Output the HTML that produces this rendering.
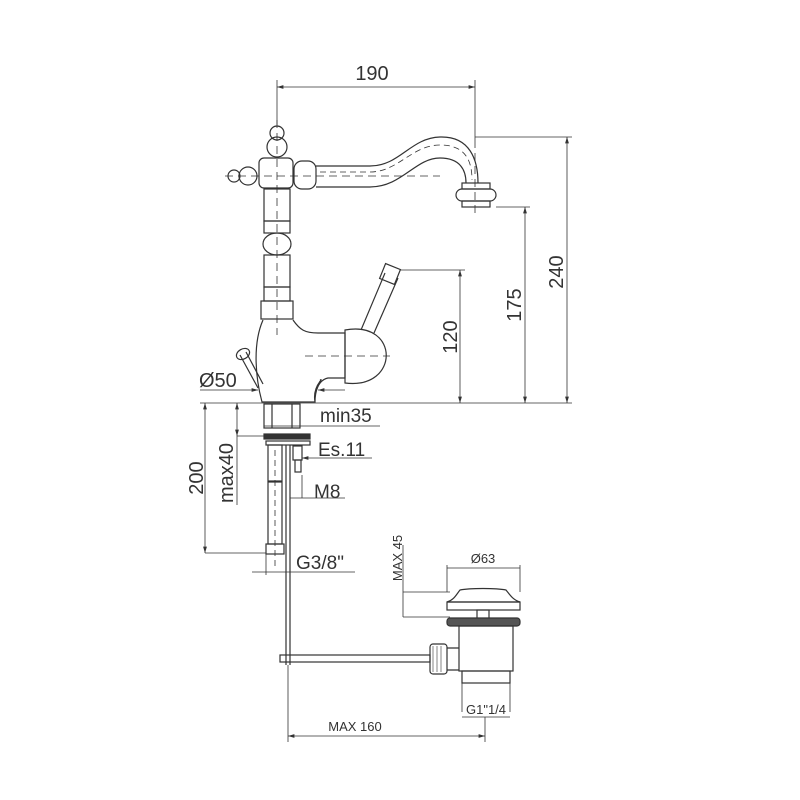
<!DOCTYPE html>
<html><head><meta charset="utf-8"><style>body{margin:0;background:#fff}svg{display:block}text{font-family:"Liberation Sans",sans-serif;fill:#333}</style></head><body>
<svg width="800" height="800" viewBox="0 0 800 800" xmlns="http://www.w3.org/2000/svg" fill="none" stroke="#333" stroke-width="1.2">
<defs><marker id="a" viewBox="0 0 10 10" refX="10" refY="5" markerWidth="8" markerHeight="8" orient="auto-start-reverse"><path d="M0,2 L10,5 L0,8" fill="#333" stroke="none"/></marker></defs>
<!-- top dim 190 -->
<line x1="277" y1="87" x2="475" y2="87" marker-start="url(#a)" marker-end="url(#a)" stroke-width="0.8"/>
<line x1="277" y1="80" x2="277" y2="125" stroke-width="0.8"/>
<line x1="475" y1="80" x2="475" y2="140" stroke-width="0.8"/>
<text x="372" y="80" font-size="20" text-anchor="middle" stroke="none">190</text>
<!-- centerlines -->
<line x1="277" y1="120" x2="277" y2="335" stroke-dasharray="8,5" stroke-width="0.8"/>
<line x1="225" y1="176" x2="440" y2="176" stroke-dasharray="8,5" stroke-width="0.8"/>
<line x1="475" y1="140" x2="475" y2="217" stroke-dasharray="8,5" stroke-width="0.8"/>
<!-- head -->
<circle cx="277" cy="133" r="7"/><circle cx="277" cy="147" r="10"/>
<rect x="259" y="158" width="34" height="30" rx="5"/>
<circle cx="234" cy="176" r="6"/><circle cx="248" cy="176" r="9"/>
<rect x="294" y="161" width="22" height="28" rx="8"/>
<path d="M316,166 L370,166 C400,166 410,138 440,137 C470,136 478,160 478,183 M316,187 L370,187 C402,187 415,158 440,158 C460,158 466,170 466,183"/>
<path d="M320,172 L370,172 C398,172 412,145 440,145 C465,145 472,160 472,180" stroke-dasharray="6,4" stroke-width="0.8"/>
<rect x="462" y="183" width="28" height="6"/><rect x="456" y="189" width="40" height="12" rx="6"/><rect x="462" y="201" width="28" height="6"/>
<!-- column -->
<rect x="264" y="189" width="26" height="32"/><rect x="264" y="221" width="26" height="12"/>
<ellipse cx="277" cy="244" rx="14" ry="11"/>
<rect x="264" y="255" width="26" height="32"/><rect x="264" y="287" width="26" height="14"/>
<rect x="261" y="301" width="32" height="18"/>
<!-- body -->
<path d="M263,320 C252,345 256,380 262,402 L315,402 C312,385 325,378 320,380 M293,320 C300,330 305,333 318,333 L345,333 L345,378 L328,378 C318,380 315,392 315,402"/>
<path d="M345,330 C400,320 400,390 345,383 Z"/>
<line x1="305" y1="356" x2="390" y2="356" stroke-dasharray="8,5" stroke-width="0.8"/>
<path d="M361,330 L385,273 M374,333 L398,278"/>
<rect x="382" y="266" width="16" height="16" transform="rotate(22 390 274)"/>
<path d="M240,355 L258,388 M246,352 L263,384"/><ellipse cx="243" cy="354" rx="7" ry="5" transform="rotate(-30 243 354)"/>
<!-- right dims -->
<line x1="200" y1="403" x2="572" y2="403" stroke-width="0.8"/>
<line x1="400" y1="270" x2="465" y2="270" stroke-width="0.8"/>
<line x1="460" y1="270" x2="460" y2="403" marker-start="url(#a)" marker-end="url(#a)" stroke-width="0.8"/>
<text transform="translate(457,337) rotate(-90)" font-size="20" text-anchor="middle" stroke="none">120</text>
<line x1="496" y1="207" x2="530" y2="207" stroke-width="0.8"/>
<line x1="525" y1="207" x2="525" y2="403" marker-start="url(#a)" marker-end="url(#a)" stroke-width="0.8"/>
<text transform="translate(521,305) rotate(-90)" font-size="20" text-anchor="middle" stroke="none">175</text>
<line x1="475" y1="137" x2="572" y2="137" stroke-width="0.8"/>
<line x1="567" y1="137" x2="567" y2="403" marker-start="url(#a)" marker-end="url(#a)" stroke-width="0.8"/>
<text transform="translate(563,272) rotate(-90)" font-size="20" text-anchor="middle" stroke="none">240</text>
<!-- Ø50 -->
<text x="199" y="387" font-size="20" stroke="none">Ø50</text>
<line x1="200" y1="390" x2="258" y2="390" marker-end="url(#a)" stroke-width="0.8"/>
<line x1="345" y1="390" x2="318" y2="390" marker-end="url(#a)" stroke-width="0.8"/>
<!-- under sink -->
<rect x="264" y="404" width="36" height="24"/><line x1="272" y1="404" x2="272" y2="428"/><line x1="292" y1="404" x2="292" y2="428"/>
<line x1="264" y1="426" x2="380" y2="426" stroke-width="0.8"/>
<text x="320" y="422" font-size="19" stroke="none">min35</text>
<rect x="264" y="434" width="46" height="5" fill="#333"/>
<rect x="266" y="441" width="44" height="4"/>
<rect x="293" y="446" width="9" height="14"/><rect x="295" y="460" width="6" height="12"/>
<text x="318" y="456" font-size="19" stroke="none">Es.11</text>
<line x1="372" y1="458" x2="302" y2="458" marker-end="url(#a)" stroke-width="0.8"/>
<rect x="268" y="445" width="14" height="36"/><rect x="268" y="482" width="14" height="62"/>
<line x1="275" y1="450" x2="275" y2="570" stroke-dasharray="6,4" stroke-width="0.8"/>
<line x1="286" y1="445" x2="286" y2="665"/><line x1="290" y1="445" x2="290" y2="665"/>
<text x="314" y="498" font-size="19" stroke="none">M8</text>
<line x1="345" y1="498" x2="290" y2="498" stroke-width="0.8"/>
<line x1="302" y1="475" x2="302" y2="498" stroke-width="0.8"/>
<rect x="266" y="544" width="18" height="10"/>
<text x="296" y="569" font-size="19" stroke="none">G3/8"</text>
<line x1="252" y1="572" x2="355" y2="572" stroke-width="0.8"/>
<line x1="266" y1="554" x2="266" y2="575" stroke-width="0.8"/>
<!-- 200 / max40 -->
<line x1="205" y1="403" x2="205" y2="553" marker-start="url(#a)" marker-end="url(#a)" stroke-width="0.8"/>
<line x1="205" y1="553" x2="266" y2="553" stroke-width="0.8"/>
<text transform="translate(203,478) rotate(-90)" font-size="20" text-anchor="middle" stroke="none">200</text>
<line x1="237" y1="403" x2="237" y2="436" marker-start="url(#a)" marker-end="url(#a)" stroke-width="0.8"/>
<line x1="237" y1="436" x2="264" y2="436" stroke-width="0.8"/>
<line x1="237" y1="436" x2="237" y2="505" stroke-width="0.8"/>
<text transform="translate(233,473) rotate(-90)" font-size="20" text-anchor="middle" stroke="none">max40</text>
<!-- drain -->
<text x="483" y="563" font-size="13" text-anchor="middle" stroke="none">Ø63</text>
<line x1="447" y1="568" x2="520" y2="568" stroke-width="0.8"/>
<line x1="447" y1="565" x2="447" y2="592" stroke-width="0.8"/><line x1="520" y1="565" x2="520" y2="592" stroke-width="0.8"/>
<text transform="translate(402,558) rotate(-90)" font-size="13" text-anchor="middle" stroke="none">MAX 45</text>
<line x1="403" y1="592" x2="450" y2="592" stroke-width="0.8"/><line x1="403" y1="617" x2="450" y2="617" stroke-width="0.8"/>
<line x1="403" y1="545" x2="403" y2="617" stroke-width="0.8"/>
<path d="M460,590 C470,588 496,588 506,590 C510,595 513,600 520,602 L447,602 C454,600 456,595 460,590 Z"/>
<rect x="447" y="602" width="73" height="8"/>
<rect x="477" y="610" width="12" height="10"/>
<rect x="447" y="618" width="73" height="8" rx="3" fill="#555"/>
<rect x="459" y="626" width="54" height="45"/>
<rect x="462" y="671" width="48" height="12"/>
<line x1="462" y1="683" x2="462" y2="712" stroke-width="0.8"/><line x1="510" y1="683" x2="510" y2="712" stroke-width="0.8"/>
<text x="486" y="714" font-size="13" text-anchor="middle" stroke="none">G1"1/4</text>
<line x1="462" y1="717" x2="510" y2="717" stroke-width="0.8"/>
<rect x="280" y="655" width="150" height="7"/>
<rect x="430" y="644" width="17" height="30" rx="3"/>
<line x1="433" y1="646" x2="433" y2="672" stroke-width="0.6"/><line x1="437" y1="646" x2="437" y2="672" stroke-width="0.6"/><line x1="441" y1="646" x2="441" y2="672" stroke-width="0.6"/>
<path d="M447,648 L459,648 M447,670 L459,670"/>
<text x="355" y="731" font-size="13" text-anchor="middle" stroke="none">MAX 160</text>
<line x1="288" y1="736" x2="485" y2="736" marker-start="url(#a)" marker-end="url(#a)" stroke-width="0.8"/>
<line x1="288" y1="665" x2="288" y2="742" stroke-width="0.8"/><line x1="485" y1="717" x2="485" y2="742" stroke-width="0.8"/>
</svg>
</body></html>
